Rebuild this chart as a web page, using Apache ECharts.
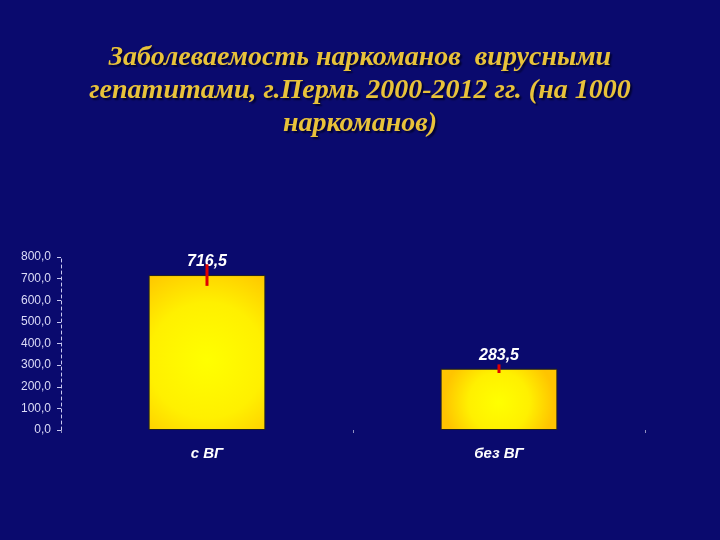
<!DOCTYPE html>
<html>
<head>
<meta charset="utf-8">
<script src="https://cdn.jsdelivr.net/npm/echarts@6/dist/echarts.min.js"></script>
<style>
  html, body { margin: 0; padding: 0; background: #0a0a6e; }
  #chart { width: 720px; height: 540px; }
</style>
</head>
<body>
<div id="chart"></div>
<script>
// data
const categories = ['с ВГ', 'без ВГ'];
const values = [716.5, 283.5];
const errors = [50, 20]; // half-length of the red error marks, estimated
const yTicks = [0, 100, 200, 300, 400, 500, 600, 700, 800];

const titleText = 'Заболеваемость наркоманов  вирусными\nгепатитами, г.Пермь 2000-2012 гг. (на 1000\nнаркоманов)';

const fmt = v => v.toFixed(1).replace('.', ',');

const barFill = {
  type: 'radial', x: 0.5, y: 0.55, r: 0.9,
  colorStops: [
    { offset: 0, color: '#ffff00' },
    { offset: 0.55, color: '#fff000' },
    { offset: 1, color: '#ffc400' }
  ]
};

const chart = echarts.init(document.getElementById('chart'));

chart.setOption({
  backgroundColor: '#0a0a6e',
  animation: false,
  title: {
    text: titleText,
    left: 'center',
    top: 36,
    textStyle: {
      fontFamily: 'Liberation Serif',
      fontStyle: 'italic',
      fontWeight: 'bold',
      fontSize: 28,
      lineHeight: 33,
      color: '#e8c23a',
      textShadowColor: '#000030',
      textShadowBlur: 2,
      textShadowOffsetX: 2,
      textShadowOffsetY: 2
    }
  },
  grid: { left: 61, right: 75, top: 257, bottom: 110, containLabel: false },
  xAxis: {
    type: 'category',
    data: categories,
    axisLine: { show: false },
    axisTick: {
      show: true,
      alignWithLabel: false,
      length: 3,
      lineStyle: { color: '#9090c0', width: 1 }
    },
    axisLabel: {
      margin: 16,
      color: '#ffffff',
      fontFamily: 'Liberation Sans',
      fontStyle: 'italic',
      fontWeight: 'bold',
      fontSize: 15
    }
  },
  yAxis: {
    type: 'value',
    min: yTicks[0],
    max: yTicks[yTicks.length - 1],
    interval: 100,
    axisLine: {
      show: true,
      lineStyle: { color: '#c8c8f0', type: [3, 3], width: 1 }
    },
    axisTick: { show: true, length: 4, lineStyle: { color: '#c8c8f0' } },
    splitLine: { show: false },
    axisLabel: {
      margin: 10,
      color: '#dcdcf8',
      fontFamily: 'Liberation Sans',
      fontSize: 12,
      formatter: v => fmt(v)
    }
  },
  series: [
    {
      type: 'bar',
      data: values,
      barWidth: '40%',
      itemStyle: { color: barFill, borderColor: '#202020', borderWidth: 1 },
      label: {
        show: true,
        position: 'top',
        distance: 5,
        formatter: p => fmt(p.value),
        color: '#ffffff',
        fontFamily: 'Liberation Sans',
        fontStyle: 'italic',
        fontWeight: 'bold',
        fontSize: 16
      }
    },
    {
      type: 'custom',
      data: values.map((v, i) => [i, v, errors[i]]),
      renderItem: (params, api) => {
        const i = api.value(0), v = api.value(1), e = api.value(2);
        const top = api.coord([i, v + e]);
        const bot = api.coord([i, v - e]);
        return {
          type: 'line',
          shape: { x1: top[0], y1: top[1], x2: bot[0], y2: bot[1] },
          style: { stroke: '#e00000', lineWidth: 3 }
        };
      },
      z: 5
    }
  ]
});
</script>
</body>
</html>
